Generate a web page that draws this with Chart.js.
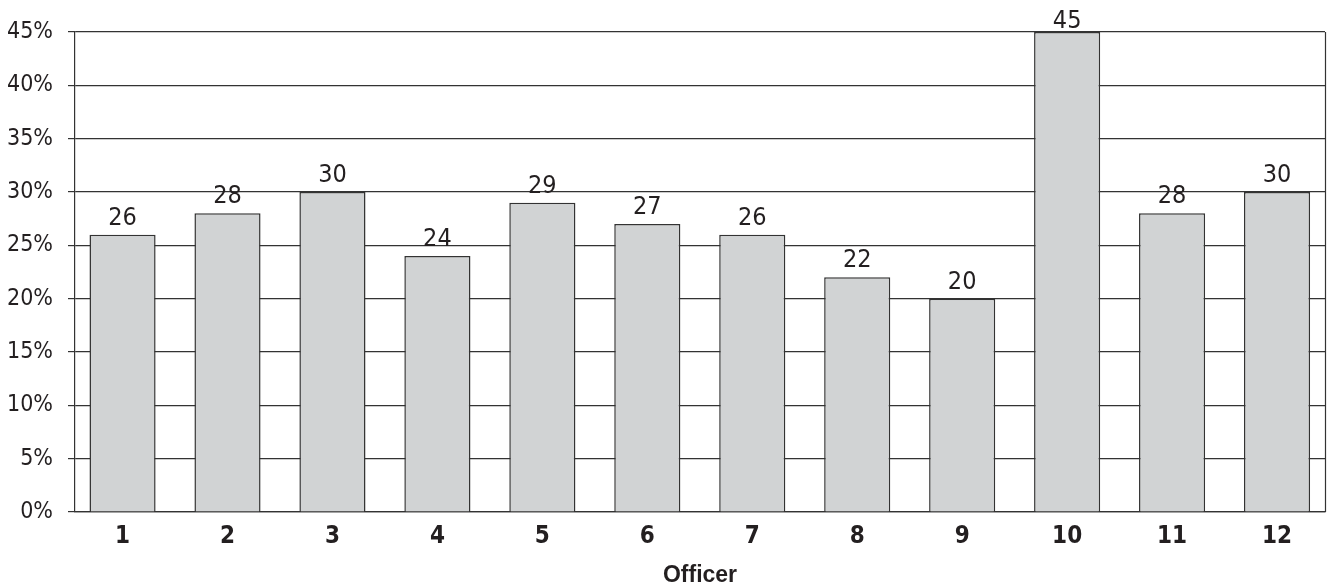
<!DOCTYPE html>
<html>
<head>
<meta charset="utf-8">
<script src="https://cdn.jsdelivr.net/npm/chart.js@4/dist/chart.umd.min.js"></script>
<style>
  html, body { margin: 0; padding: 0; background: #fff; }
</style>
</head>
<body>
<canvas id="officerChart" width="1328" height="587"></canvas>
<script>
// Data
const officers = [1, 2, 3, 4, 5, 6, 7, 8, 9, 10, 11, 12];
const percentValues = [26, 28, 30, 24, 29, 27, 26, 22, 20, 45, 28, 30];
const yTicks = [0, 5, 10, 15, 20, 25, 30, 35, 40, 45];

const inkColor = '#231f20';
const lineColor = '#333333';
const barFill = '#d1d3d4';
const narrowFont = '"Liberation Sans Narrow", "DejaVu Sans Condensed", sans-serif';

// Value labels above every bar
const barLabels = {
    id: 'barLabels',
    afterDatasetsDraw(chart) {
        const ctx = chart.ctx;
        const meta = chart.getDatasetMeta(0);
        ctx.save();
        ctx.font = '25px ' + narrowFont;
        ctx.fillStyle = inkColor;
        ctx.textAlign = 'center';
        ctx.textBaseline = 'alphabetic';
        meta.data.forEach((bar, i) => {
            const y = Math.max(bar.y - 10, 28);
            ctx.fillText(String(percentValues[i]), bar.x, y);
        });
        ctx.restore();
    }
};

// Right edge of the plot frame
const rightFrame = {
    id: 'rightFrame',
    afterDraw(chart) {
        const { ctx, chartArea } = chart;
        ctx.save();
        ctx.strokeStyle = lineColor;
        ctx.lineWidth = 1.2;
        ctx.beginPath();
        ctx.moveTo(chartArea.right + 0.5, chartArea.top);
        ctx.lineTo(chartArea.right + 0.5, chartArea.bottom);
        ctx.stroke();
        ctx.restore();
    }
};

const ctx = document.getElementById('officerChart').getContext('2d');
new Chart(ctx, {
    type: 'bar',
    data: {
        datasets: [{
            label: 'Officer',
            data: officers.map((o, i) => ({ x: o, y: percentValues[i] })),
            backgroundColor: barFill,
            borderColor: lineColor,
            borderWidth: 1.5,
            categoryPercentage: 1,
            barPercentage: 0.63
        }]
    },
    options: {
        responsive: false,
        animation: false,
        layout: { padding: { left: 0, right: 3, top: 32, bottom: 0 } },
        plugins: {
            legend: { display: false },
            tooltip: { enabled: false }
        },
        scales: {
            x: {
                type: 'linear',
                offset: false,
                min: 0.547,
                max: 12.457,
                afterFit(scale) { scale.height = 75; },
                afterBuildTicks(scale) {
                    scale.ticks = officers.map(v => ({ value: v }));
                },
                grid: { display: false, offset: false },
                border: { display: true, color: lineColor, width: 1.2 },
                ticks: {
                    autoSkip: false,
                    maxRotation: 0,
                    padding: 2,
                    color: inkColor,
                    font: { family: narrowFont, size: 24, weight: 'bold' },
                    callback: v => String(v)
                },
                title: {
                    display: true,
                    text: 'Officer',
                    color: inkColor,
                    padding: 0,
                    font: { family: '"Liberation Sans", Arial, sans-serif', size: 23, weight: 'bold', lineHeight: 1 }
                }
            },
            y: {
                min: 0,
                max: 45,
                afterFit(scale) { scale.width = 75; },
                afterBuildTicks(scale) {
                    scale.ticks = yTicks.map(v => ({ value: v }));
                },
                grid: {
                    color: lineColor,
                    lineWidth: 1.2,
                    drawTicks: true,
                    tickLength: 7
                },
                border: { display: true, color: lineColor, width: 1.2 },
                ticks: {
                    padding: 15,
                    color: inkColor,
                    font: { family: narrowFont, size: 23 },
                    callback: v => v + '%'
                }
            }
        }
    },
    plugins: [barLabels, rightFrame]
});
</script>
</body>
</html>
